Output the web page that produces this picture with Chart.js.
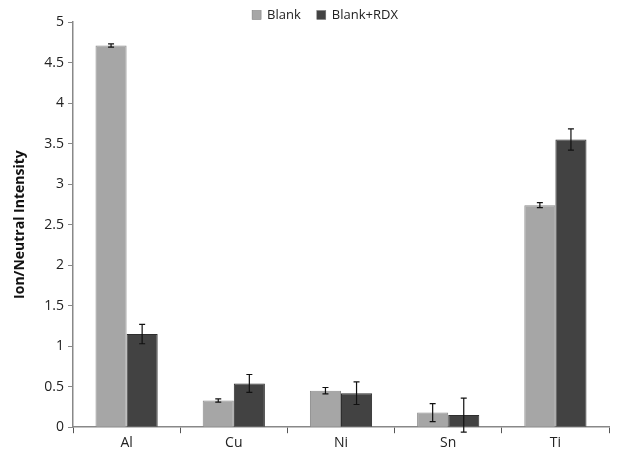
<!DOCTYPE html>
<html>
<head>
<meta charset="utf-8">
<script src="https://cdn.jsdelivr.net/npm/chart.js@4"></script>
<style>
  html, body { margin: 0; padding: 0; background: #fff; }
  #wrap { width: 623px; height: 456px; }
</style>
</head>
<body>
<div id="wrap"><canvas id="ionChart" width="623" height="456"></canvas></div>
<script>
const elements = ['Al', 'Cu', 'Ni', 'Sn', 'Ti'];
const blankValues = [4.71, 0.33, 0.45, 0.18, 2.74];
const blankErrors = [0.02, 0.02, 0.04, 0.11, 0.03];
const rdxValues = [1.15, 0.54, 0.42, 0.15, 3.55];
const rdxErrors = [0.12, 0.11, 0.14, 0.21, 0.13];
const yTicks = [0, 0.5, 1, 1.5, 2, 2.5, 3, 3.5, 4, 4.5, 5];

const FONT = 'Open Sans';

// error bar plugin, drawn through the scales
const errorBars = {
  id: 'errorBars',
  afterDatasetsDraw(chart) {
    const c = chart.ctx;
    const y = chart.scales.y;
    chart.data.datasets.forEach((ds, i) => {
      const meta = chart.getDatasetMeta(i);
      meta.data.forEach((bar, j) => {
        const v = ds.data[j], e = ds.errors[j];
        const top = y.getPixelForValue(v + e);
        const bot = y.getPixelForValue(v - e);
        c.save();
        c.strokeStyle = '#111';
        c.lineWidth = 1.2;
        c.beginPath();
        c.moveTo(bar.x, top); c.lineTo(bar.x, bot);
        c.moveTo(bar.x - 3, top); c.lineTo(bar.x + 3, top);
        c.moveTo(bar.x - 3, bot); c.lineTo(bar.x + 3, bot);
        c.stroke();
        c.restore();
      });
    });
  }
};

// small legend sitting at the top, overlapping the padding only
const topLegend = {
  id: 'topLegend',
  afterDraw(chart) {
    const c = chart.ctx;
    const box = 9, gapText = 6, gapItem = 16;
    c.save();
    c.font = '13px "' + FONT + '"';
    c.textBaseline = 'middle';
    const items = chart.data.datasets.map(ds => ({
      label: ds.label, color: ds.backgroundColor, w: c.measureText(ds.label).width
    }));
    let total = 0;
    items.forEach((it, k) => { total += box + gapText + it.w + (k ? gapItem : 0); });
    let x = 325 - total / 2;
    const y = 15;
    items.forEach(it => {
      c.fillStyle = it.color;
      c.fillRect(x, y - box / 2, box, box);
      c.strokeStyle = '#777';
      c.lineWidth = 0.5;
      c.strokeRect(x, y - box / 2, box, box);
      c.fillStyle = '#222';
      c.fillText(it.label, x + box + gapText, y + 0.5);
      x += box + gapText + it.w + gapItem;
    });
    c.restore();
  }
};

const ctx = document.getElementById('ionChart').getContext('2d');
new Chart(ctx, {
  type: 'bar',
  data: {
    labels: elements,
    datasets: [
      {
        label: 'Blank',
        data: blankValues,
        errors: blankErrors,
        backgroundColor: '#a6a6a6',
        borderColor: '#8a8a8a',
        borderWidth: 1
      },
      {
        label: 'Blank+RDX',
        data: rdxValues,
        errors: rdxErrors,
        backgroundColor: '#424242',
        borderColor: '#2e2e2e',
        borderWidth: 1
      }
    ]
  },
  options: {
    responsive: false,
    animation: false,
    layout: { padding: { left: 0, right: 14, top: 22, bottom: 4 } },
    datasets: { bar: { categoryPercentage: 0.58, barPercentage: 1.0 } },
    plugins: {
      tooltip: { enabled: false },
      legend: { display: false }
    },
    scales: {
      x: {
        grid: { drawOnChartArea: false, offset: true, tickLength: 6, color: '#555' },
        border: { color: '#888', width: 1.5 },
        ticks: { color: '#222', font: { family: FONT, size: 14 }, padding: 1 }
      },
      y: {
        min: 0,
        max: 5,
        afterBuildTicks(axis) { axis.ticks = yTicks.map(v => ({ value: v })); },
        afterFit(axis) { axis.width = 73; },
        grid: { drawOnChartArea: false, tickLength: 5, color: '#888' },
        border: { color: '#888', width: 1.5 },
        ticks: {
          color: '#222',
          font: { family: FONT, size: 14 },
          padding: 4,
          callback: v => String(v)
        },
        title: {
          display: true,
          text: 'Ion/Neutral Intensity',
          color: '#111',
          font: { family: FONT, size: 14, weight: 'bold' },
          padding: { top: 12, bottom: 0 }
        }
      }
    }
  },
  plugins: [errorBars, topLegend]
});
</script>
</body>
</html>
